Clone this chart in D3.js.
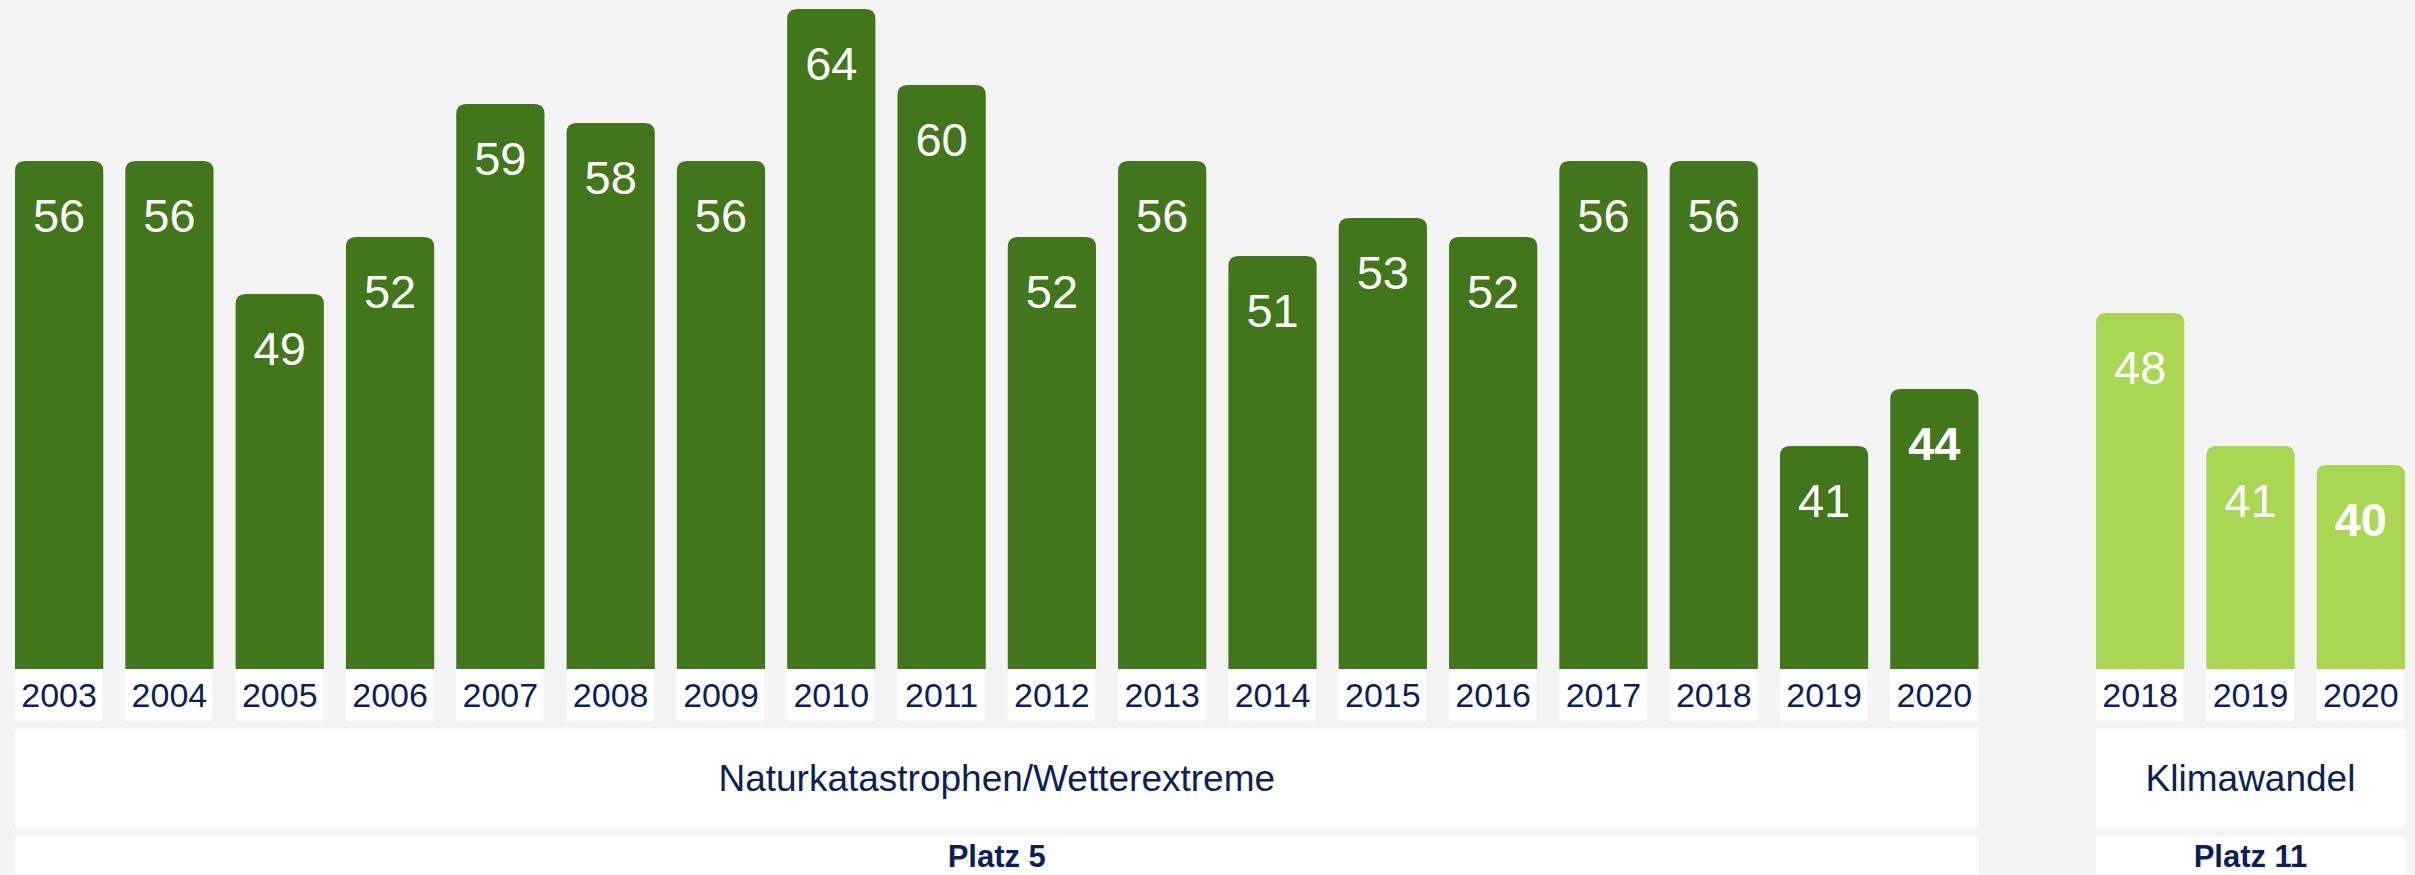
<!DOCTYPE html>
<html>
<head>
<meta charset="utf-8">
<script src="https://cdn.jsdelivr.net/npm/d3@7"></script>
<style>
  html, body { margin: 0; padding: 0; background: #f4f4f4; }
  svg { display: block; }
</style>
</head>
<body>
<script>
// ---- data ----
const yearsA = ["2003","2004","2005","2006","2007","2008","2009","2010","2011","2012","2013","2014","2015","2016","2017","2018","2019","2020"];
const valuesA = [56,56,49,52,59,58,56,64,60,52,56,51,53,52,56,56,41,44];
const yearsB = ["2018","2019","2020"];
const valuesB = [48,41,40];
const groupLabels = ["Naturkatastrophen/Wetterextreme", "Klimawandel"];
const rankLabels = ["Platz 5", "Platz 11"];

const W = 2415, H = 875;
const navy = "#0b1f5c";
const dark = "#41761a";
const light = "#a9d751";

const svg = d3.select("body").append("svg").attr("width", W).attr("height", H);
svg.append("rect").attr("width", W).attr("height", H).attr("fill", "#f4f4f4");

const base = 669;
const y = d3.scaleLinear().domain([29.26, 64]).range([base, 9]);

const xA = d3.scaleBand().domain(yearsA).range([15, 1978.5]).paddingInner(0.2).paddingOuter(0);
const xB = d3.scaleBand().domain(yearsB).range([2096, 2405]).paddingInner(0.2).paddingOuter(0);

function topRounded(x, yTop, w, h, r) {
  return `M${x},${yTop + h} V${yTop + r} Q${x},${yTop} ${x + r},${yTop} H${x + w - r} Q${x + w},${yTop} ${x + w},${yTop + r} V${yTop + h} Z`;
}

function drawGroup(years, values, x, color, gi) {
  const g = svg.append("g");
  const data = years.map((yr, i) => ({ yr, v: values[i], last: i === years.length - 1 }));
  g.selectAll("path.bar").data(data).join("path")
    .attr("class", "bar")
    .attr("fill", color)
    .attr("d", d => topRounded(x(d.yr), y(d.v), x.bandwidth(), base - y(d.v), 10));
  g.selectAll("text.val").data(data).join("text")
    .attr("class", "val")
    .attr("x", d => x(d.yr) + x.bandwidth() / 2)
    .attr("y", d => y(d.v) + 71)
    .attr("text-anchor", "middle")
    .attr("fill", "#ffffff")
    .attr("font-family", "'Liberation Sans', Arial, sans-serif")
    .attr("font-size", 47)
    .attr("font-weight", d => d.last ? "bold" : "normal")
    .text(d => d.v);
  // year boxes
  g.selectAll("rect.yb").data(data).join("rect")
    .attr("class", "yb")
    .attr("x", d => x(d.yr))
    .attr("y", base)
    .attr("width", x.bandwidth() - 1)
    .attr("height", 52)
    .attr("fill", "#ffffff");
  g.selectAll("text.yr").data(data).join("text")
    .attr("class", "yr")
    .attr("x", d => x(d.yr) + x.bandwidth() / 2)
    .attr("y", 707)
    .attr("text-anchor", "middle")
    .attr("fill", navy)
    .attr("font-family", "'Liberation Sans', Arial, sans-serif")
    .attr("font-size", 34)
    .text(d => d.yr);
  // group boxes
  const x0 = x.range()[0], x1 = x.range()[1];
  g.append("rect").attr("x", x0).attr("y", 729).attr("width", x1 - x0).attr("height", 99).attr("fill", "#ffffff");
  g.append("text")
    .attr("x", (x0 + x1) / 2).attr("y", 791)
    .attr("text-anchor", "middle").attr("fill", navy)
    .attr("font-family", "'Liberation Sans', Arial, sans-serif")
    .attr("font-size", 37)
    .text(groupLabels[gi]);
  g.append("rect").attr("x", x0).attr("y", 837).attr("width", x1 - x0).attr("height", 50).attr("fill", "#ffffff");
  g.append("text")
    .attr("x", (x0 + x1) / 2).attr("y", 867)
    .attr("text-anchor", "middle").attr("fill", navy)
    .attr("font-family", "'Liberation Sans', Arial, sans-serif")
    .attr("font-size", 31).attr("font-weight", "bold")
    .text(rankLabels[gi]);
}

drawGroup(yearsA, valuesA, xA, dark, 0);
drawGroup(yearsB, valuesB, xB, light, 1);
</script>
</body>
</html>
